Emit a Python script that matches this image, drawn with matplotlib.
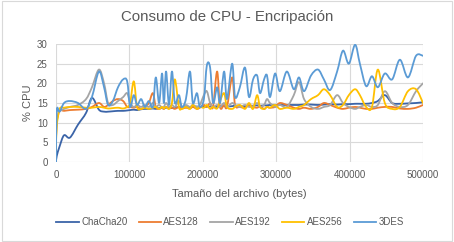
import matplotlib
matplotlib.use("Agg")
import matplotlib.pyplot as plt
from matplotlib.path import Path
from matplotlib.patches import PathPatch, Rectangle
from matplotlib.lines import Line2D
import numpy as np

plt.rcParams["font.family"] = ["Liberation Sans", "DejaVu Sans"]

# tamaño del archivo (bytes)
tamanos = [0, 1000, 5000, 11000, 19000, 30000, 41000, 49000, 58500, 65500,
           71000, 77500, 84500, 91500, 97000, 101000, 106000, 110500, 116000, 121000,
           126500, 132000, 136000, 140500, 144500, 147000, 150000, 154000, 158000, 162000,
           167500, 171500, 177000, 182500, 186500, 192000, 196000, 201500, 205500, 210000,
           214000, 219500, 223500, 229000, 233000, 240000, 244000, 250500, 257500, 263000,
           268500, 274000, 278000, 283500, 287500, 291500, 298500, 305000, 314500, 324000,
           331000, 338000, 347500, 357000, 365000, 373500, 383000, 391000, 399000, 407500,
           414000, 422500, 430500, 438500, 448000, 458000, 468500, 479500, 490500, 500000]

chacha20 = [0, 1.5, 4, 6.8, 6.2, 9.5, 12.5, 16.3, 13.3, 12.8,
            12.8, 12.9, 13, 13, 13.1, 13.2, 13.3, 13.2, 13.4, 13.5,
            13.5, 13.6, 13.5, 13.7, 13.7, 13.6, 13.8, 13.8, 13.7, 13.9,
            13.9, 14, 13.9, 14, 14, 14.1, 14, 14, 14.1, 14.1,
            14.1, 14, 14.2, 14.2, 14.1, 14.2, 14.3, 14.3, 14.2, 14.3,
            14.3, 14.4, 14.3, 14.4, 14.4, 14.5, 14.4, 14.5, 14.5, 14.5,
            14.5, 14.6, 14.6, 14.5, 14.6, 14.7, 14.6, 14.7, 14.7, 14.8,
            14.8, 14.8, 15, 15.5, 17, 15, 14.8, 14.9, 15, 15.2]

aes128 = [4, 10, 13, 13, 13.2, 13.3, 13.5, 14, 15, 14,
          14.5, 15.5, 16, 15.5, 14, 14, 13.8, 14, 13.5, 14,
          15, 17.5, 14, 13.5, 13.8, 13.5, 14, 13.6, 13.8, 13.5,
          14, 13.6, 13.8, 13.6, 14, 13.5, 13.8, 14.5, 14, 15,
          14, 23, 14, 14.5, 14, 21.5, 14.5, 14, 13.8, 14.5,
          14, 13.8, 14.2, 13.5, 14, 13.8, 14, 15, 14.5, 13.8,
          13.5, 13.8, 13.5, 14, 15, 14.5, 13.8, 13.5, 13.8, 14,
          13.8, 13.5, 13.5, 13.8, 14, 14, 13.6, 13.5, 13.8, 14.5]

aes192 = [12.5, 13, 13, 13.5, 14, 14.5, 16, 19, 23.5, 20,
          15, 14.5, 15.5, 16.5, 17.5, 15, 14, 14.5, 14, 14.5,
          14, 15, 14, 14.5, 13.8, 14, 15, 14, 14.5, 14,
          15.5, 14, 14.5, 14, 14.5, 14, 14.5, 17, 18, 15,
          14, 14.5, 14, 15, 14, 15, 14.5, 14, 14.5, 14,
          14.2, 15, 14, 14.5, 16, 15, 14, 14.5, 14, 17,
          20.3, 16, 14, 13.5, 14, 14.5, 17, 15, 14, 13.5,
          14, 14.5, 14, 14.5, 18, 15, 14, 14.5, 18, 20]

aes256 = [3, 9, 13.5, 13.8, 14, 14, 13.8, 13.8, 14, 13.8,
          13.6, 13.7, 13.8, 13.6, 14, 15, 20.5, 14, 13.5, 13.8,
          13.5, 13.8, 14, 13.5, 14, 13.6, 14, 13.5, 15, 21,
          14, 13.5, 14, 13.5, 14.5, 13.5, 14, 13.8, 14.5, 13.5,
          14, 13.6, 15.5, 17.5, 14, 13.5, 14, 14.5, 13.5, 15,
          13.5, 17, 14, 13.5, 14, 13.8, 14.5, 13.5, 13.8, 13.5,
          14, 14.5, 16, 17, 18.5, 17, 14, 14.5, 17, 18.5,
          17, 14, 14, 23.5, 15, 13.5, 14, 18, 18.5, 15]

des3 = [0, 13, 12.8, 15, 15.5, 15, 13.5, 16.5, 23, 19,
        14.5, 15.5, 19, 21, 20.5, 14, 17, 14.5, 16, 14,
        15.5, 14, 21.5, 15, 22.5, 15, 23, 14.5, 23, 15,
        17, 14, 16, 23, 15, 17.5, 14, 16, 24.5, 24,
        15, 19, 15, 23, 16, 25, 16.5, 19, 24, 16.5,
        21, 22, 17.5, 21, 22, 16.5, 22.5, 18, 23, 18.5,
        21.5, 18, 22, 23.5, 21, 18.3, 23, 28.3, 25, 29.8,
        25, 19.3, 21.8, 19, 22.5, 21, 26, 21.5, 27, 27]

series = [("ChaCha20", chacha20, "#3B64A8"),
          ("AES128", aes128, "#ED7D31"),
          ("AES192", aes192, "#A5A5A5"),
          ("AES256", aes256, "#FFC000"),
          ("3DES", des3, "#5B9BD5")]


def smooth_path(x, y):
    # curva suavizada (tipo Excel) con segmentos Bezier cubicos
    p = np.column_stack([x, y]).astype(float)
    verts = [p[0]]
    codes = [Path.MOVETO]
    n = len(p)
    for i in range(n - 1):
        p0 = p[i - 1] if i > 0 else p[i]
        p3 = p[i + 2] if i + 2 < n else p[i + 1]
        c1 = p[i] + (p[i + 1] - p0) / 6.0
        c2 = p[i + 1] - (p3 - p[i]) / 6.0
        verts += [c1, c2, p[i + 1]]
        codes += [Path.CURVE4] * 3
    return Path(verts, codes)


fig = plt.figure(figsize=(4.54, 2.42), dpi=100)
ax = fig.add_axes([0.1233, 0.3306, 0.8084, 0.4876])

handles = []
for name, vals, color in series:
    patch = PathPatch(smooth_path(tamanos, vals), facecolor="none", edgecolor=color,
                      lw=1.3, capstyle="round", joinstyle="round")
    ax.add_patch(patch)
    handles.append(Line2D([], [], color=color, lw=1.3, label=name))

ax.set_xlim(0, 500000)
ax.set_ylim(0, 30)
ax.set_xticks(np.arange(0, 500001, 100000))
ax.set_yticks(np.arange(0, 31, 5))
ax.grid(True, color="#D9D9D9", lw=0.8)
ax.set_axisbelow(True)
for s in ax.spines.values():
    s.set_visible(False)
ax.tick_params(length=0, labelsize=7, colors="#595959", pad=6)

fig.text(0.5, 0.93, "Consumo de CPU - Encripación", ha="center", va="center",
         fontsize=10.8, color="#595959")
ax.set_xlabel("Tamaño del archivo (bytes)", fontsize=8, color="#595959", labelpad=6)
ax.set_ylabel("% CPU", fontsize=8, color="#595959", labelpad=3)

fig.legend(handles=handles, loc="center", bbox_to_anchor=(0.507, 0.083), ncol=5,
           frameon=False, fontsize=7, handlelength=2.3, columnspacing=1.15,
           handletextpad=0.25, labelcolor="#595959")

fig.patches.append(Rectangle((0.004, 0.006), 0.992, 0.988, transform=fig.transFigure,
                             fill=False, edgecolor="#D9D9D9", lw=0.8))

fig.savefig("out.png", dpi=100)
